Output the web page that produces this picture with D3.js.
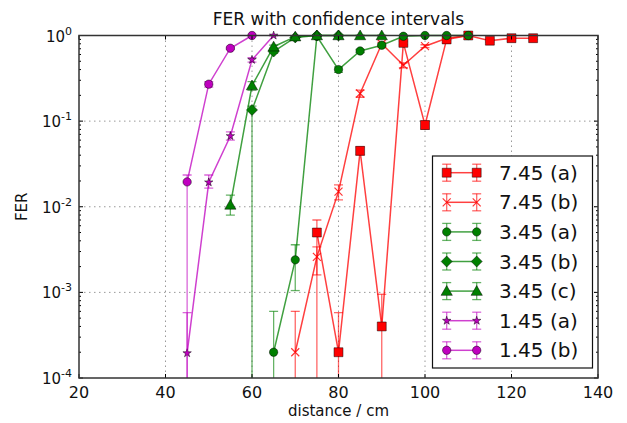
<!DOCTYPE html>
<html><head><meta charset="utf-8">
<script src="https://cdn.jsdelivr.net/npm/d3@7"></script>
<style>body{margin:0;background:#fff;} svg{display:block;font-family:"DejaVu Sans",sans-serif;}</style>
</head><body>
<svg id="c" width="627" height="423"></svg>
<script>
// ---- data ----
const xTicks = [20,40,60,80,100,120,140];
const yTicks = [1e-4,1e-3,1e-2,1e-1,1];
const yTickExp = ["-4","-3","-2","-1","0"];
const titleText = "FER with confidence intervals";
const xLabel = "distance / cm";
const yLabel = "FER";

const names = ["7.45 (a)","7.45 (b)","3.45 (a)","3.45 (b)","3.45 (c)","1.45 (a)","1.45 (b)"];
const colors = ["#ff0000","#ff0000","#008000","#008000","#008000","#bf00bf","#bf00bf"];
const markers = ["square","x","circle","diamond","triangle","star","circle"];

const x745a = [75,80,85,90,95,100,105,110,115,120,125];
const y745a = [5e-3,2e-4,0.045,4e-4,0.82,0.09,0.9,1.0,0.87,0.93,0.93];
const lo745a = [0,0,0.04,0,0.78,0.08,0.87,1.0,0.84,0.9,0.9];
const hi745a = [7e-3,5.8e-4,0.05,9.5e-4,0.86,0.1,0.93,1.0,0.9,0.96,0.96];

const x745b = [70,75,80,85,90,95,100,105,110];
const y745b = [2e-4,2.6e-3,0.015,0.21,0.8,0.45,0.75,0.93,1.0];
const lo745b = [0,1.6e-3,0.012,0.19,0.77,0.42,0.72,0.9,1.0];
const hi745b = [6e-4,3.4e-3,0.018,0.23,0.83,0.48,0.78,0.96,1.0];

const x345a = [65,70,75,80,85,90,95,100,105,110];
const y345a = [2e-4,2.4e-3,0.98,0.4,0.66,0.77,0.98,1.0,1.0,1.0];
const lo345a = [0,1.05e-3,0.96,0.37,0.63,0.74,0.96,1.0,1.0,1.0];
const hi345a = [6e-4,3.6e-3,1.0,0.43,0.69,0.8,1.0,1.0,1.0,1.0];

const x345b = [60,65,70,75,80];
const y345b = [0.135,0.65,0.95,1.0,1.0];
const lo345b = [0,0.62,0.93,1.0,1.0];
const hi345b = [0.15,0.68,0.97,1.0,1.0];

const x345c = [55,60,65,70,75,80,85,90];
const y345c = [0.0105,0.26,0.74,0.97,1.0,1.0,1.0,1.0];
const lo345c = [0.008,0.23,0.71,0.95,1.0,1.0,1.0,1.0];
const hi345c = [0.0137,0.29,0.77,0.99,1.0,1.0,1.0,1.0];

const x145a = [45,50,55,60,65];
const y145a = [1.95e-4,0.0193,0.067,0.52,1.0];
const lo145a = [0,0.0165,0.06,0.49,1.0];
const hi145a = [5.8e-4,0.0235,0.075,0.55,1.0];

const x145b = [45,50,55,60];
const y145b = [0.0195,0.27,0.71,1.0];
const lo145b = [0,0.25,0.69,1.0];
const hi145b = [0.0235,0.29,0.73,1.0];

const seriesX = [x745a,x745b,x345a,x345b,x345c,x145a,x145b];
const seriesY = [y745a,y745b,y345a,y345b,y345c,y145a,y145b];
const seriesLo = [lo745a,lo745b,lo345a,lo345b,lo345c,lo145a,lo145b];
const seriesHi = [hi745a,hi745b,hi345a,hi345b,hi345c,hi145a,hi145b];

// ---- layout ----
const L=79, R=598, T=35.5, B=378;
const svg = d3.select("#c");
const x = d3.scaleLinear().domain([20,140]).range([L,R]);
const y = d3.scaleLog().domain([1e-4,1]).range([B,T]);
const yv = v => v<=0 ? B+10 : y(v);

svg.append("defs").append("clipPath").attr("id","clip")
  .append("rect").attr("x",L).attr("y",T-6).attr("width",R-L).attr("height",B-T+6);

// grid
const grid = svg.append("g");
xTicks.slice(1,-1).forEach(t=>grid.append("line").attr("x1",x(t)).attr("x2",x(t)).attr("y1",T).attr("y2",B)
  .attr("stroke","#999").attr("stroke-width",1).attr("stroke-dasharray","1.5,3.5"));
yTicks.slice(1,-1).forEach(t=>grid.append("line").attr("y1",y(t)).attr("y2",y(t)).attr("x1",L).attr("x2",R)
  .attr("stroke","#999").attr("stroke-width",1).attr("stroke-dasharray","1.5,3.5"));

// markers
function markerPath(type){
  if(type==="diamond"){ const h=5.5; return `M0,${-h}L${h},0L0,${h}L${-h},0Z`; }
  if(type==="star") return d3.symbol().type(d3.symbolStar).size(22)();
  const sym = {square:d3.symbolSquare,circle:d3.symbolCircle,triangle:d3.symbolTriangle}[type];
  const sizes = {square:80,circle:55,triangle:55};
  return d3.symbol().type(sym).size(sizes[type])();
}
function drawMarker(g, type, cx, cy, color){
  if(type==="x"){
    const h=4;
    g.append("path").attr("d",`M${cx-h},${cy-h}L${cx+h},${cy+h}M${cx-h},${cy+h}L${cx+h},${cy-h}`)
      .attr("stroke",color).attr("stroke-width",1.2).attr("stroke-opacity",0.8).attr("fill","none");
    return;
  }
  let dy = type==="triangle" ? 1 : 0;
  g.append("path").attr("d",markerPath(type)).attr("transform",`translate(${cx},${cy+dy})`)
    .attr("fill",color).attr("stroke","#000").attr("stroke-opacity",0.6).attr("stroke-width",0.8);
}
function drawErr(g, cx, ylo, yhi, color){
  g.append("line").attr("x1",cx).attr("x2",cx).attr("y1",ylo).attr("y2",yhi)
    .attr("stroke",color).attr("stroke-width",1.3).attr("stroke-opacity",0.6);
  [ylo,yhi].forEach(yy=>g.append("line").attr("x1",cx-4.5).attr("x2",cx+4.5).attr("y1",yy).attr("y2",yy)
    .attr("stroke",color).attr("stroke-width",1.3).attr("stroke-opacity",0.6));
}

const plot = svg.append("g").attr("clip-path","url(#clip)");
const line = d3.line().x(d=>x(d[0])).y(d=>y(d[1]));
names.forEach((n,i)=>{
  const g = plot.append("g");
  const pts = seriesX[i].map((v,j)=>[v,seriesY[i][j]]);
  seriesX[i].forEach((v,j)=>drawErr(g, x(v), yv(seriesLo[i][j]), yv(seriesHi[i][j]), colors[i]));
  g.append("path").datum(pts).attr("d",line).attr("fill","none").attr("stroke",colors[i])
    .attr("stroke-width",1.5).attr("stroke-opacity",0.75);
  pts.forEach(p=>drawMarker(g, markers[i], x(p[0]), y(p[1]), colors[i]));
});

// ticks (inside, all sides)
const tk = svg.append("g").attr("stroke","#000").attr("stroke-width",1);
xTicks.forEach(t=>{
  tk.append("line").attr("x1",x(t)).attr("x2",x(t)).attr("y1",B).attr("y2",B-4);
  tk.append("line").attr("x1",x(t)).attr("x2",x(t)).attr("y1",T).attr("y2",T+4);
});
for(let e=-4;e<=0;e++){
  tk.append("line").attr("x1",L).attr("x2",L+4).attr("y1",y(10**e)).attr("y2",y(10**e));
  tk.append("line").attr("x1",R).attr("x2",R-4).attr("y1",y(10**e)).attr("y2",y(10**e));
  if(e<0) for(let m=2;m<=9;m++){
    const yy=y(m*10**e);
    tk.append("line").attr("x1",L).attr("x2",L+2).attr("y1",yy).attr("y2",yy);
    tk.append("line").attr("x1",R).attr("x2",R-2).attr("y1",yy).attr("y2",yy);
  }
}
// frame
svg.append("rect").attr("x",L).attr("y",T).attr("width",R-L).attr("height",B-T)
  .attr("fill","none").attr("stroke","#333").attr("stroke-width",1.5);

// tick labels
xTicks.forEach(t=>svg.append("text").attr("x",x(t)).attr("y",398).attr("text-anchor","middle")
  .attr("font-size",16).attr("fill","#111").text(t));
yTicks.forEach((t,i)=>{
  const tx = svg.append("text").attr("x",72).attr("y",y(t)+6).attr("text-anchor","end").attr("font-size",15).attr("fill","#111");
  tx.append("tspan").text("10");
  tx.append("tspan").attr("dy",-7).attr("font-size",11).text(yTickExp[i]);
});

svg.append("text").attr("x",(L+R)/2).attr("y",25).attr("text-anchor","middle").attr("font-size",17).attr("fill","#111").text(titleText);
svg.append("text").attr("x",(L+R)/2).attr("y",416).attr("text-anchor","middle").attr("font-size",15).attr("fill","#111").text(xLabel);
svg.append("text").attr("transform",`translate(27,${(T+B)/2}) rotate(-90)`).attr("text-anchor","middle").attr("font-size",15).attr("fill","#111").text(yLabel);

// legend
const lg = svg.append("g");
lg.append("rect").attr("x",432.5).attr("y",156).attr("width",160).attr("height",212)
  .attr("fill","#fff").attr("stroke","#111").attr("stroke-width",1.2);
names.forEach((n,i)=>{
  const yy = 172.7 + i*29.6;
  const x1=446.7, x2=476.7;
  [x1,x2].forEach(xx=>drawErr(lg, xx, yy+8.5, yy-8.5, colors[i]));
  lg.append("line").attr("x1",x1).attr("x2",x2).attr("y1",yy).attr("y2",yy).attr("stroke",colors[i]).attr("stroke-width",1.5).attr("stroke-opacity",0.75);
  [x1,x2].forEach(xx=>drawMarker(lg, markers[i], xx, yy, colors[i]));
  lg.append("text").attr("x",499).attr("y",yy+7).attr("font-size",20).attr("fill","#111").text(n);
});
</script>
</body></html>
